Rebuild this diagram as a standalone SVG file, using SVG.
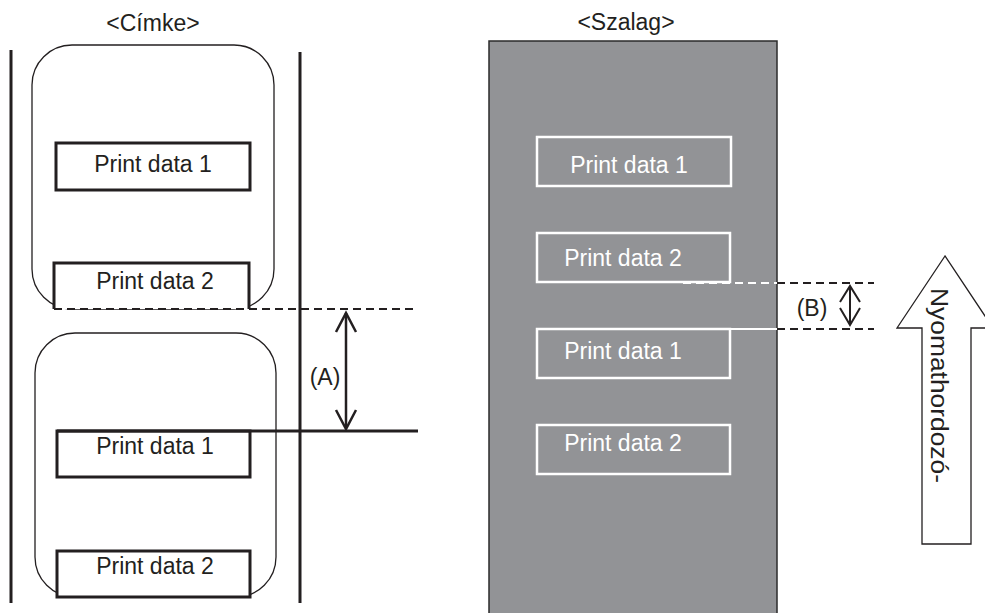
<svg xmlns="http://www.w3.org/2000/svg" width="985" height="613" viewBox="0 0 985 613">
<style>
text{font-family:"Liberation Sans",Arial,sans-serif;fill:#231f20}
.t{font-size:23px;text-anchor:middle}
.w{fill:#ffffff}
.box{fill:none;stroke:#231f20;stroke-width:3}
.wbox{fill:none;stroke:#ffffff;stroke-width:2.5}
.lbl{fill:none;stroke:#231f20;stroke-width:1.3}
.dash{stroke:#231f20;stroke-width:2;stroke-dasharray:8 5;fill:none}
.wdash{stroke:#ffffff;stroke-width:2;stroke-dasharray:8 5;fill:none}
.line{stroke:#231f20;stroke-width:3;fill:none}
</style>
<rect width="985" height="613" fill="#ffffff"/>
<g id="title-cimke"><text class="t" x="153" y="31">&lt;Címke&gt;</text></g>
<g id="title-szalag"><text class="t" x="626" y="30">&lt;Szalag&gt;</text></g>
<g id="rails">
<line class="line" x1="11" y1="50" x2="11" y2="603"/>
<line class="line" x1="300" y1="52" x2="300" y2="603"/>
</g>
<g id="label1">
<rect class="lbl" x="32" y="45" width="242" height="264" rx="40" ry="40"/>
</g>
<g id="label2">
<rect class="lbl" x="35" y="333" width="241" height="264" rx="40" ry="40"/>
</g>
<g id="l-pd1a"><rect class="box" x="56" y="143" width="194" height="47" fill="#fff" style="fill:#fff"/><text class="t" x="153" y="172">Print data 1</text></g>
<g id="l-pd2a"><path class="box" d="M54,309 V263 H249 V309" style="fill:#fff"/><text class="t" x="155" y="289">Print data 2</text></g>
<g id="l-pd1b"><rect class="box" x="57" y="431" width="193" height="46" style="fill:#fff"/><text class="t" x="155" y="454">Print data 1</text></g>
<g id="l-pd2b"><rect class="box" x="57" y="551" width="193" height="46" style="fill:#fff"/><text class="t" x="155" y="574">Print data 2</text></g>
<g id="ribbon">
<rect x="489" y="41" width="288" height="580" fill="#929396" stroke="#2b2b2b" stroke-width="1.5"/>
</g>
<g id="r-pd1a"><rect class="wbox" x="537" y="137" width="194" height="49"/><text class="t w" x="629" y="173">Print data 1</text></g>
<g id="r-pd2a"><rect class="wbox" x="537" y="233" width="193" height="49"/><text class="t w" x="623" y="266">Print data 2</text></g>
<g id="r-pd1b"><rect class="wbox" x="537" y="329" width="193" height="49"/><text class="t w" x="623" y="359">Print data 1</text></g>
<g id="r-pd2b"><rect class="wbox" x="537" y="425" width="193" height="49"/><text class="t w" x="623" y="451">Print data 2</text></g>
<g id="connectors">
<line class="dash" x1="54" y1="309" x2="418" y2="309"/>
<line class="line" x1="57" y1="431" x2="418" y2="431"/>
<line class="line" x1="346" y1="313" x2="346" y2="428" style="stroke-width:2.5"/>
<polyline class="line" points="336,332 346,313 356,332" style="stroke-width:2.5"/>
<polyline class="line" points="336,410 346,429 356,410" style="stroke-width:2.5"/>
<line class="wdash" x1="683" y1="283" x2="777" y2="283"/>
<line class="dash" x1="777" y1="283" x2="874" y2="283"/>
<line x1="730" y1="329" x2="777" y2="329" stroke="#ffffff" stroke-width="2"/>
<line class="dash" x1="777" y1="329" x2="874" y2="329"/>
<line x1="850" y1="286" x2="850" y2="325" stroke="#231f20" stroke-width="2"/>
<polyline points="840,302 850,286 860,302" fill="none" stroke="#231f20" stroke-width="2"/>
<polyline points="840,308 850,325 860,308" fill="none" stroke="#231f20" stroke-width="2"/>
</g>
<g id="dim-a"><text class="t" x="325" y="385">(A)</text></g>
<g id="dim-b"><text class="t" x="812" y="316">(B)</text></g>
<g id="feed-arrow">
<polygon points="945,256 897,328 922,328 922,544 971,544 971,328 993,328" fill="#ffffff" stroke="#231f20" stroke-width="1.3"/>
<text transform="translate(931,288) rotate(90)" font-size="23" textLength="195" lengthAdjust="spacingAndGlyphs">Nyomathordozó-</text>
</g>
</svg>
